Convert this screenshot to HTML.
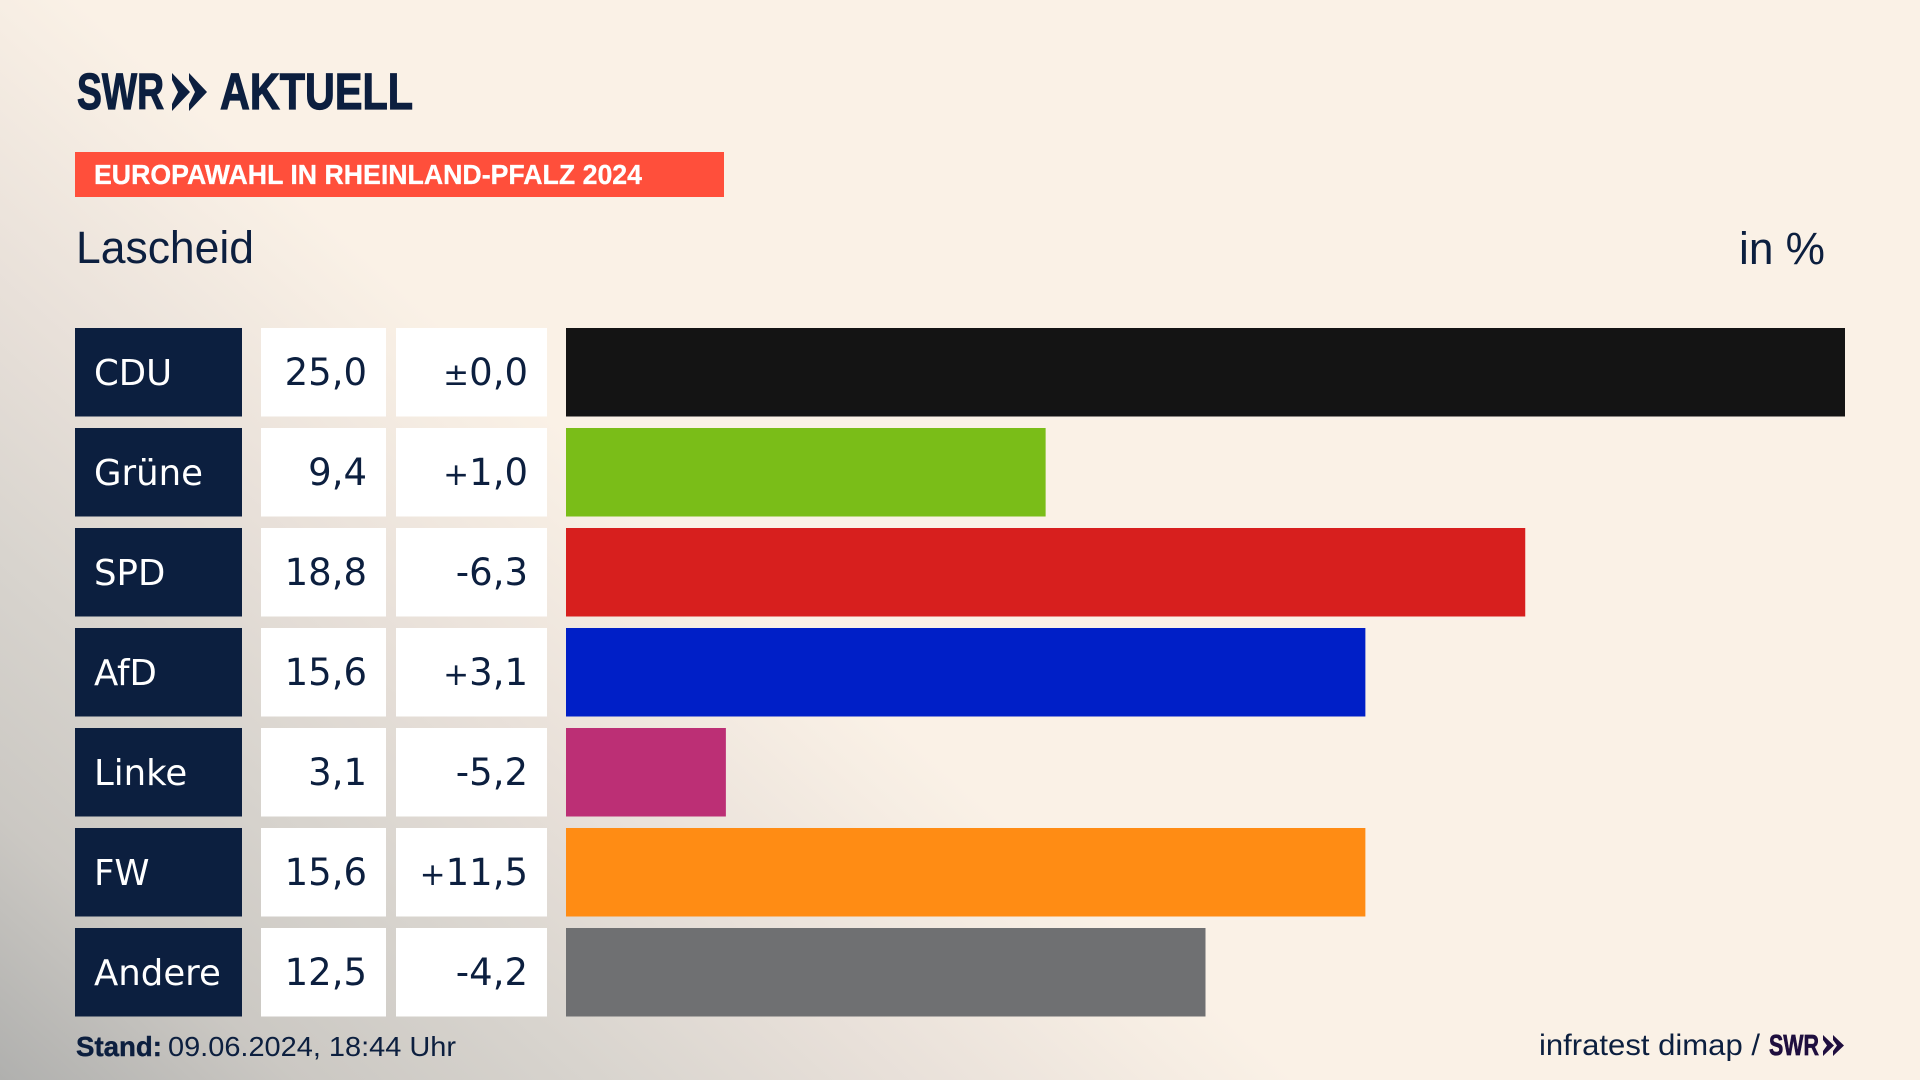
<!DOCTYPE html>
<html lang="de">
<head>
<meta charset="utf-8">
<title>Europawahl in Rheinland-Pfalz 2024 – Lascheid</title>
<style>
html,body{margin:0;padding:0;width:1920px;height:1080px;overflow:hidden;background:#faf1e6}
#stage{position:absolute;left:0;top:0;width:1920px;height:1080px;
background:linear-gradient(41.5deg,#b0b0ae 0,#cbc8c3 198px,#d8d4ce 396px,#e8e0d9 594px,#f6ede3 792px,#faf1e6 861px)}
svg{position:absolute;left:0;top:0}
text{font-family:"Liberation Sans",sans-serif}
.cell{font-family:"DejaVu Sans","Liberation Sans",sans-serif;font-size:35.5px}
.num{font-family:"DejaVu Sans","Liberation Sans",sans-serif;font-size:37px}
</style>
</head>
<body>
<div id="stage">
<svg id="chart" width="1920" height="1080" viewBox="0 0 1920 1080" xmlns="http://www.w3.org/2000/svg">
  <g fill="#0c1f3f" stroke="#0c1f3f">
    <text x="77" y="109" font-size="51" font-weight="700" stroke-width="1.2" textLength="87" lengthAdjust="spacingAndGlyphs">SWR</text>
    <polygon stroke="none" points="172,73 190,92 172,111 172,104 178,92 172,80"/>
    <polygon stroke="none" points="189,73 207,92 189,111 189,104 195,92 189,80"/>
    <text x="220" y="109" font-size="51" font-weight="700" stroke-width="1.2" textLength="193" lengthAdjust="spacingAndGlyphs">AKTUELL</text>
  </g>
  <rect x="75" y="152" width="649" height="45" fill="#ff4f3b"/>
  <text x="94" y="184" font-size="28" font-weight="700" fill="#ffffff" stroke="#ffffff" stroke-width="0.3" textLength="548" lengthAdjust="spacingAndGlyphs">EUROPAWAHL IN RHEINLAND-PFALZ 2024</text>
  <text x="76" y="263" font-size="45" fill="#0c1f3f" textLength="178" lengthAdjust="spacingAndGlyphs">Lascheid</text>
  <text x="1739" y="264" font-size="45" fill="#0c1f3f" textLength="86" lengthAdjust="spacingAndGlyphs">in %</text>
  <g id="rows"></g>
  <text x="76" y="1056" font-size="28" font-weight="700" fill="#0c1f3f" stroke="#0c1f3f" stroke-width="0.4" textLength="86" lengthAdjust="spacingAndGlyphs">Stand:</text>
  <text x="168" y="1056" font-size="28" fill="#0c1f3f" textLength="288" lengthAdjust="spacingAndGlyphs">09.06.2024, 18:44 Uhr</text>
  <text x="1539" y="1055" font-size="30" fill="#0c1f3f" textLength="221" lengthAdjust="spacingAndGlyphs">infratest dimap /</text>
  <g fill="#1f0f3f">
    <text x="1769" y="1055" font-size="29" font-weight="700" stroke="#1f0f3f" stroke-width="0.7" textLength="50" lengthAdjust="spacingAndGlyphs">SWR</text>
    <polygon points="1823,1035 1834,1045.5 1823,1056 1823,1051 1827,1045.5 1823,1040"/>
    <polygon points="1833,1035 1844,1045.5 1833,1056 1833,1051 1837,1045.5 1833,1040"/>
  </g>
</svg>
</div>
<script>
const parties = ["CDU", "Grüne", "SPD", "AfD", "Linke", "FW", "Andere"];
const shares = [25, 9.375, 18.75, 15.625, 3.125, 15.625, 12.5];
const changes = [0, 1.0, -6.3, 3.1, -5.2, 11.5, -4.2];
const partyColors = ["#141414", "#7abd18", "#d71f1e", "#001fc7", "#bc2f75", "#ff8c14", "#6f7072"];

const axisMax = 25;
const barLeft = 566;
const barFull = 1279;
const rowTop = 328;
const rowStep = 100;
const rowHeight = 88.5;
const NS = "http://www.w3.org/2000/svg";
const rowsGroup = document.getElementById("rows");

function xScale(v) { return barFull * v / axisMax; }
function yScale(i) { return rowTop + i * rowStep; }
function fmtShare(v) { return v.toFixed(1).replace(".", ","); }
function fmtChangeDigits(v) { return Math.abs(v).toFixed(1).replace(".", ","); }
function fmtChangeSign(v) {
  if (v === 0) return "±";
  return v > 0 ? "+" : "-";
}
function makeRect(x, y, w, h, fill) {
  const r = document.createElementNS(NS, "rect");
  r.setAttribute("x", x);
  r.setAttribute("y", y);
  r.setAttribute("width", w);
  r.setAttribute("height", h);
  r.setAttribute("fill", fill);
  return r;
}
function makeText(str, x, y, fill, anchor, cls) {
  const t = document.createElementNS(NS, "text");
  t.setAttribute("class", cls);
  t.setAttribute("x", x);
  t.setAttribute("y", y);
  t.setAttribute("fill", fill);
  t.setAttribute("text-anchor", anchor);
  t.textContent = str;
  return t;
}

parties.forEach(function (party, i) {
  const y = yScale(i);
  const base = y + 57;

  const labelBox = makeRect(75, y, 167, rowHeight, "#0c1f3f");
  
  
  rowsGroup.appendChild(labelBox);

  const label = makeText(party, 94, base, "#ffffff", "start", "cell");
  
  
  rowsGroup.appendChild(label);

  const shareBox = makeRect(261, y, 125, rowHeight, "#ffffff");
  
  
  rowsGroup.appendChild(shareBox);

  const share = makeText(fmtShare(shares[i]), 367, base, "#0c1f3f", "end", "num");
  
  
  rowsGroup.appendChild(share);

  const changeBox = makeRect(396, y, 151, rowHeight, "#ffffff");
  
  
  rowsGroup.appendChild(changeBox);

  const change = makeText("", 528, base, "#0c1f3f", "end", "num");
  
  
  const sign = document.createElementNS(NS, "tspan");
  const signText = fmtChangeSign(changes[i]);
  if (signText !== "-") sign.setAttribute("font-size", "31");
  sign.textContent = signText;
  change.appendChild(sign);
  change.appendChild(document.createTextNode(fmtChangeDigits(changes[i])));
  rowsGroup.appendChild(change);

  const bar = makeRect(barLeft, y, xScale(shares[i]), rowHeight, partyColors[i]);
  
  
  rowsGroup.appendChild(bar);
});
</script>
</body>
</html>
